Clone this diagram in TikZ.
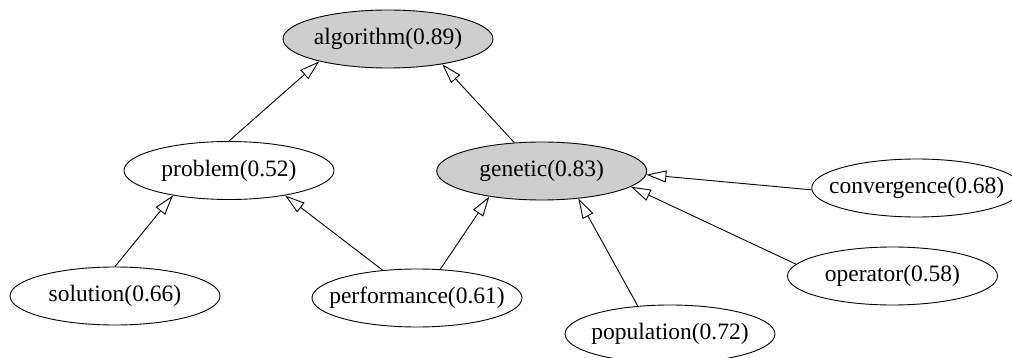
\documentclass[tikz,border=0pt]{standalone}
\usepackage{fontspec}
\setmainfont{Liberation Serif}
\usetikzlibrary{shapes.geometric,arrows.meta}
\definecolor{nodegray}{RGB}{206,206,206}
\tikzset{
  concept/.style={draw=black, line width=0.9pt, ellipse, inner sep=0pt,
    minimum width=210pt, minimum height=58pt,
    font=\fontsize{23.5}{27}\selectfont},
  core/.style={concept, fill=nodegray},
  isa/.style={draw=black, line width=0.9pt,
    -{Triangle[open, length=20pt, width=12pt, fill=white]}},
}
\newcommand{\lbl}[1]{\makebox[0pt][c]{#1}}
\begin{document}
\begin{tikzpicture}[x=1pt, y=-1pt]
  \useasboundingbox (0,0) rectangle (1012,358);
  % concept nodes
  \node[core]    (algorithm)   at (388,39)    {\lbl{algorithm(0.89)}};
  \node[concept] (problem)     at (229,170.5) {\lbl{problem(0.52)}};
  \node[core]    (genetic)     at (541.7,171) {\lbl{genetic(0.83)}};
  \node[concept] (convergence) at (916.7,188) {\lbl{convergence(0.68)}};
  \node[concept] (solution)    at (115,296)   {\lbl{solution(0.66)}};
  \node[concept] (performance) at (417,298)   {\lbl{performance(0.61)}};
  \node[concept] (operator)    at (892.5,276) {\lbl{operator(0.58)}};
  \node[concept] (population)  at (670,334)   {\lbl{population(0.72)}};
  % is-a links
  \draw[isa] (problem.north)     -- (algorithm.198);
  \draw[isa] (genetic.134)       -- (algorithm.335);
  \draw[isa] (solution.north)    -- (problem.204);
  \draw[isa] (performance.141)   -- (problem.336);
  \draw[isa] (performance.51)    -- (genetic.206);
  \draw[isa] (population.139)    -- (genetic.323);
  \draw[isa] (convergence.181)   -- (genetic.358.5);
  \draw[isa] (operator.173.5)    -- (genetic.350);
\end{tikzpicture}
\end{document}
